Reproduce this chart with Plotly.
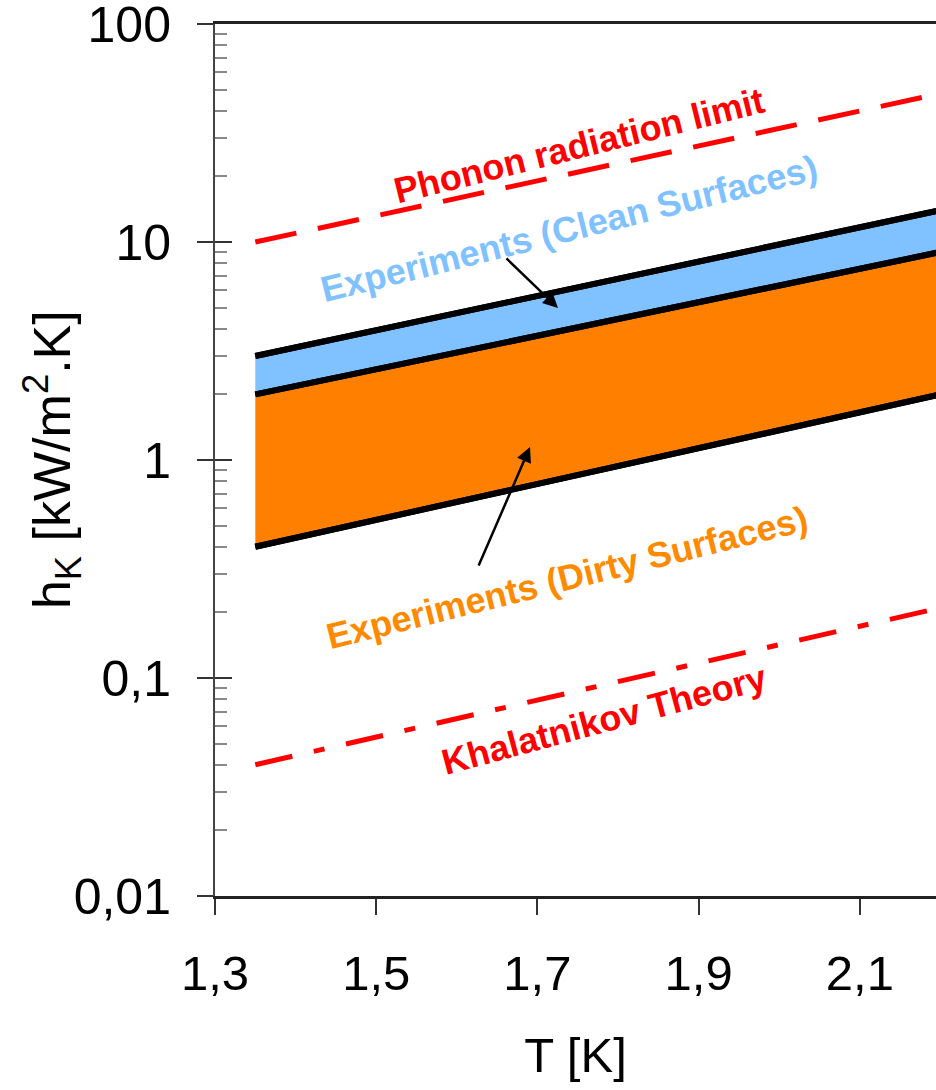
import plotly.graph_objects as go

# ---- data ----
T = [1.35, 2.2]
clean_upper = [3.0, 14.0]
clean_lower = [2.0, 9.0]      # also upper bound of dirty surfaces
dirty_lower = [0.4, 2.0]
phonon_limit = [10.0, 48.0]
khalatnikov = [0.04, 0.21]

x_tickvals = [1.3, 1.5, 1.7, 1.9, 2.1]
x_ticktext = ["1,3", "1,5", "1,7", "1,9", "2,1"]
y_tickvals = [0.01, 0.1, 1, 10, 100]
y_ticktext = ["0,01", "0,1", "1", "10", "100"]
y_minor = [m * d for d in [0.01, 0.1, 1, 10] for m in range(2, 10)]

FONT = "Liberation Sans, Arial, sans-serif"
BLUE = "#80C1FF"
ORANGE = "#FF8000"
ORANGE_TXT = "#FF8A00"
RED = "#FF0000"

fig = go.Figure()

# filled bands
fig.add_trace(go.Scatter(x=T, y=dirty_lower, mode="lines",
                         line=dict(color="black", width=6), showlegend=False))
fig.add_trace(go.Scatter(x=T, y=clean_lower, mode="lines", fill="tonexty",
                         fillcolor=ORANGE, line=dict(color="black", width=6),
                         showlegend=False))
fig.add_trace(go.Scatter(x=T, y=clean_upper, mode="lines", fill="tonexty",
                         fillcolor=BLUE, line=dict(color="black", width=6),
                         showlegend=False))
# boundary lines on top
for ys in (dirty_lower, clean_lower, clean_upper):
    fig.add_trace(go.Scatter(x=T, y=ys, mode="lines",
                             line=dict(color="black", width=6), showlegend=False))

# theory lines
fig.add_trace(go.Scatter(x=T, y=phonon_limit, mode="lines",
                         line=dict(color=RED, width=5, dash="42px,22px"),
                         showlegend=False))
fig.add_trace(go.Scatter(x=T, y=khalatnikov, mode="lines",
                         line=dict(color=RED, width=5, dash="38px,22px,11px,22px"),
                         showlegend=False))

# helper trace for the overlay axis (inside major ticks)
fig.add_trace(go.Scatter(x=[None], y=[None], yaxis="y2", showlegend=False,
                         hoverinfo="skip"))

fig.update_layout(
    width=936, height=1090,
    margin=dict(l=215, r=0, t=24, b=194, autoexpand=False),
    paper_bgcolor="white", plot_bgcolor="white",
    separators=",.",
    font=dict(family=FONT, color="black"),
    xaxis=dict(
        range=[1.3, 2.1945], showgrid=False, zeroline=False, automargin=False,
        tickvals=x_tickvals, ticktext=x_ticktext, ticklabeloverflow="allow",
        ticks="outside", ticklen=16, tickwidth=1.5, tickcolor="#333",
        tickfont=dict(size=49, family=FONT), ticklabelstandoff=16,
        showline=True, linecolor="#222", linewidth=2.5, mirror=True,
        title=dict(text="T [K]", font=dict(size=49, family=FONT), standoff=40),
    ),
    yaxis=dict(
        type="log", range=[-2, 2], showgrid=False, zeroline=False, automargin=False,
        tickvals=y_tickvals, ticktext=y_ticktext, ticklabeloverflow="allow",
        ticks="outside", ticklen=16, tickwidth=1.5, tickcolor="#333",
        tickfont=dict(size=50, family=FONT), ticklabelstandoff=16,
        showline=True, linecolor="#444", linewidth=2, mirror=False,
        minor=dict(tickvals=y_minor, ticks="inside", ticklen=12,
                   tickwidth=2, tickcolor="#888"),
    ),
    yaxis2=dict(
        type="log", range=[-2, 2], overlaying="y", side="left", anchor="x",
        showgrid=False, zeroline=False, showline=False, automargin=False,
        tickvals=y_tickvals, ticks="inside", ticklen=17, tickwidth=1.5,
        tickcolor="#333", showticklabels=False,
    ),
)

# y-axis title (placed as a rotated annotation for exact position)
fig.add_annotation(xref="paper", yref="paper", x=-0.226, y=0.5,
                   xanchor="center", yanchor="middle", showarrow=False,
                   text="h<sub>K</sub> [kW/m<sup>2</sup>.K]", textangle=-90,
                   font=dict(family=FONT, size=52, color="black"))

annotations = [
    ("Phonon radiation limit", 0.505, 0.861, -14, RED),
    ("Experiments (Clean Surfaces)", 0.491, 0.765, -14, BLUE),
    ("Experiments (Dirty Surfaces)", 0.488, 0.365, -14, ORANGE_TXT),
    ("Khalatnikov Theory", 0.540, 0.202, -15, RED),
]
for txt, ax_, ay_, ang, col in annotations:
    fig.add_annotation(xref="paper", yref="paper", x=ax_, y=ay_,
                       xanchor="center", yanchor="middle",
                       text="<b>" + txt + "</b>", showarrow=False,
                       textangle=ang, font=dict(family=FONT, size=36, color=col))

# arrows
fig.add_annotation(xref="paper", yref="paper", x=0.4757, y=0.6743, text="",
                   showarrow=True, ax=-53, ay=-51, arrowhead=2, arrowsize=1.2,
                   arrowwidth=2.5, arrowcolor="black", standoff=0)
fig.add_annotation(xref="paper", yref="paper", x=0.4369, y=0.5149, text="",
                   showarrow=True, ax=-52, ay=120, arrowhead=2, arrowsize=1.2,
                   arrowwidth=2.5, arrowcolor="black", standoff=0)

fig.write_html(
    "out.html",
    config={"displayModeBar": False},
    post_script="document.body.style.margin='0';document.body.style.overflow='hidden';",
)
